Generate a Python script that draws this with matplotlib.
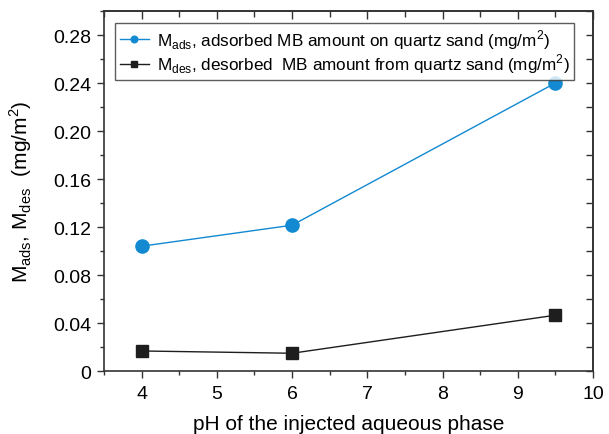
import matplotlib.pyplot as plt
from matplotlib.ticker import MultipleLocator, NullFormatter

plt.rcParams['font.family'] = ['Liberation Sans', 'DejaVu Sans']

ph = [4, 6, 9.5]
m_ads = [0.104, 0.1215, 0.240]
m_des = [0.0167, 0.0148, 0.0465]
ytick_vals = [0, 0.04, 0.08, 0.12, 0.16, 0.20, 0.24, 0.28]
ytick_labels = ['0', '0.04', '0.08', '0.12', '0.16', '0.20', '0.24', '0.28']

fig = plt.figure(figsize=(6.09, 4.35), dpi=100)
ax = fig.add_axes([0.1708, 0.1448, 0.8029, 0.8276])

ax.plot(ph, m_ads, '-o', color='#1289d1', markersize=9.5, linewidth=1,
        label=r'M$_{\mathregular{ads}}$, adsorbed MB amount on quartz sand (mg/m$^{\mathregular{2}}$)')
ax.plot(ph, m_des, '-s', color='#1e1e1e', markersize=8, linewidth=1,
        label=r'M$_{\mathregular{des}}$, desorbed  MB amount from quartz sand (mg/m$^{\mathregular{2}}$)')

ax.set_xlim(3.5, 10)
ax.set_ylim(0, 0.30)
ax.set_xticks([4, 5, 6, 7, 8, 9, 10])
ax.xaxis.set_minor_locator(MultipleLocator(0.5))
ax.set_yticks(ytick_vals)
ax.set_yticklabels(ytick_labels)
ax.yaxis.set_minor_locator(MultipleLocator(0.02))
ax.tick_params(which='both', direction='out', labelsize=14, width=1, color='#333333')
ax.tick_params(axis='x', which='major', length=5, pad=5)
ax.tick_params(axis='y', which='major', length=5, pad=4)
ax.tick_params(which='minor', length=3)
for s in ax.spines.values():
    s.set_linewidth(1.2)
    s.set_color('#333333')

# top / right ticks point inward
top = ax.secondary_xaxis('top')
top.set_xticks([4, 5, 6, 7, 8, 9, 10])
top.xaxis.set_minor_locator(MultipleLocator(0.5))
top.tick_params(which='both', direction='in', labeltop=False, width=1, color='#333333')
top.tick_params(which='major', length=6)
top.tick_params(which='minor', length=4)
top.spines['top'].set_linewidth(1.2)
top.spines['top'].set_color('#333333')

right = ax.secondary_yaxis('right')
right.yaxis.set_major_locator(MultipleLocator(0.02))
right.yaxis.set_major_formatter(NullFormatter())
right.tick_params(direction='in', length=5, width=1, color='#333333')
right.spines['right'].set_linewidth(1.2)
right.spines['right'].set_color('#333333')

ax.set_xlabel('pH of the injected aqueous phase', fontsize=15, labelpad=9)
ax.set_ylabel(r'M$_{\mathregular{ads}}$, M$_{\mathregular{des}}$  (mg/m$^{\mathregular{2}}$)',
              fontsize=15, labelpad=14)

leg = ax.legend(loc='upper left', bbox_to_anchor=(0.016, 0.976), fontsize=12.3,
                frameon=True, fancybox=False, edgecolor='#333333',
                handlelength=1.7, handletextpad=0.5, labelspacing=0.05,
                markerscale=0.5, borderaxespad=0.2, borderpad=0.25)
leg.get_frame().set_linewidth(1)

fig.savefig('out.png', dpi=100)
